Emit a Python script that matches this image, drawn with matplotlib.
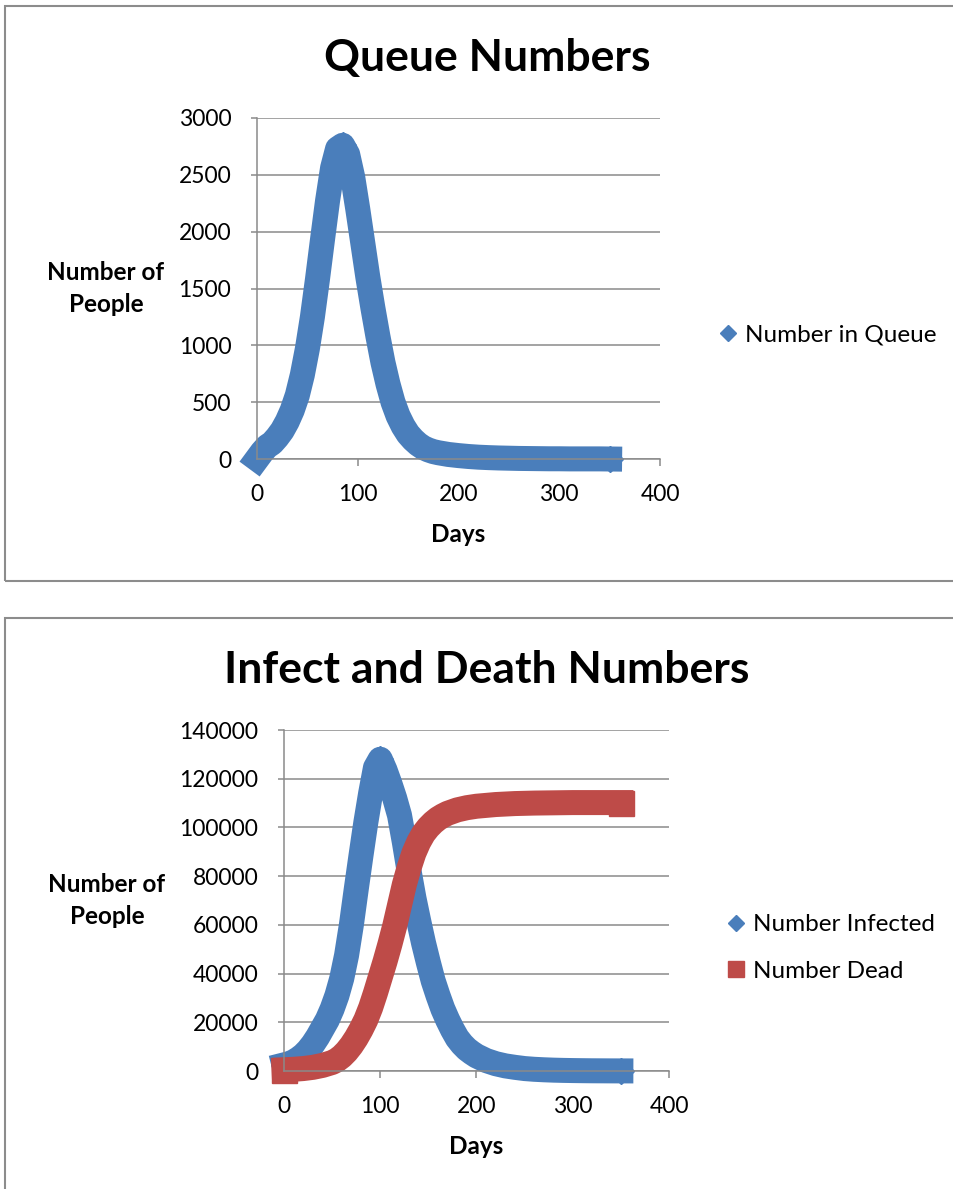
import matplotlib
matplotlib.use("Agg")
import matplotlib.pyplot as plt
from matplotlib.patches import Rectangle
from matplotlib.lines import Line2D

# queue chart data
queue_days = [0, 5, 10, 15, 20, 25, 30, 35, 40, 45, 50, 55, 60, 65, 70, 75, 80, 85,
              90, 95, 100, 105, 110, 115, 120, 125, 130, 135, 140, 145, 150, 155, 160,
              165, 170, 175, 180, 190, 200, 210, 220, 230, 240, 250, 260, 270, 280,
              290, 300, 310, 320, 330, 340, 350]
queue_people = [0, 60, 110, 140, 190, 250, 330, 430, 560, 740, 970, 1250, 1580, 1930,
                2270, 2560, 2730, 2760, 2680, 2480, 2200, 1900, 1600, 1330, 1080, 850,
                660, 500, 380, 290, 220, 170, 130, 100, 80, 65, 55, 40, 30, 22, 16, 12,
                9, 7, 5, 4, 3, 2, 2, 1, 1, 1, 1, 0]

# infection / death chart data
inf_days = [0, 5, 10, 15, 20, 25, 30, 35, 40, 45, 50, 55, 60, 65, 70, 75, 80, 85, 90,
            95, 100, 105, 110, 115, 120, 125, 130, 135, 140, 145, 150, 155, 160, 165,
            170, 175, 180, 185, 190, 195, 200, 210, 220, 230, 240, 250, 260, 270, 280,
            290, 300, 310, 320, 330, 340, 350]
infected = [2500, 3000, 3800, 5000, 6500, 8500, 11000, 14000, 17500, 21000, 25500,
            31000, 38000, 47500, 60000, 74500, 88500, 102000, 114000, 124500, 128000,
            123500, 118000, 112000, 105000, 94000, 82000, 71000, 61500, 52500, 44500,
            37000, 31000, 25500, 21000, 17000, 13500, 11000, 9000, 7500, 6200, 4300,
            3000, 2100, 1500, 1000, 700, 500, 350, 250, 180, 130, 90, 70, 50, 40]

dead_days = [0, 10, 20, 30, 40, 50, 55, 60, 65, 70, 75, 80, 85, 90, 95, 100, 105, 110,
             115, 120, 125, 130, 135, 140, 145, 150, 155, 160, 165, 170, 180, 190, 200,
             220, 240, 260, 280, 300, 320, 340, 350]
dead = [500, 700, 1000, 1500, 2300, 3500, 4500, 6000, 8000, 10500, 13500, 17000, 21000,
        26000, 32000, 38500, 45000, 52000, 59500, 68000, 76500, 83500, 89500, 94000,
        97500, 100000, 102000, 103600, 104800, 105800, 107200, 108100, 108700, 109400,
        109800, 110000, 110100, 110200, 110200, 110200, 110200]

BLUE = "#4A7EBB"
RED = "#BE4B48"
GRID = "#8a8a8a"
LW = 18

plt.rcParams['font.family'] = ['Lato', 'DejaVu Sans']

W, H = 954, 1189
fig = plt.figure(figsize=(W / 100, H / 100), dpi=100)


def px_axes(x0, y0, x1, y1):
    return fig.add_axes([x0 / W, 1 - y1 / H, (x1 - x0) / W, (y1 - y0) / H])


def style(ax, ymax, ystep):
    ax.set_xlim(0, 400)
    ax.set_ylim(0, ymax)
    ax.set_xticks(range(0, 401, 100))
    ax.set_yticks(range(0, ymax + 1, ystep))
    ax.grid(axis="y", color=GRID, linewidth=1.1)
    ax.set_axisbelow(True)
    for s in ["top", "right"]:
        ax.spines[s].set_visible(False)
    for s in ["left", "bottom"]:
        ax.spines[s].set_color(GRID)
        ax.spines[s].set_linewidth(1.1)
    ax.tick_params(axis="y", length=4.5, width=1.1, color=GRID, pad=14, labelsize=16.5)
    ax.tick_params(axis="x", length=5, width=1.1, color=GRID, pad=13, labelsize=16.5)
    ax.set_xlabel("Days", fontsize=17.5, fontweight="bold", va="center")
    ax.xaxis.set_label_coords(0.5, -0.22)
    ax.set_ylabel("Number of\nPeople", fontsize=17.5, fontweight="bold", rotation=0,
                  ha="center", va="center", linespacing=1.45)


def peak_marks(vals):
    return [0, vals.index(max(vals)), len(vals) - 1]


# chart frames
fig.patches.append(Rectangle((5 / W, 1 - 581 / H), 1.2, (581 - 6) / H,
                             transform=fig.transFigure, fill=False,
                             edgecolor="#8c8c8c", linewidth=1.5))
fig.patches.append(Rectangle((5 / W, 1 - 1250 / H), 1.2, (1250 - 618) / H,
                             transform=fig.transFigure, fill=False,
                             edgecolor="#8c8c8c", linewidth=1.5))

# top chart
ax1 = px_axes(257, 118, 660, 459)
style(ax1, 3000, 500)
ax1.yaxis.set_label_coords(-0.375, 0.5)
ax1.plot(queue_days, queue_people, color=BLUE, linewidth=LW, marker="D",
         markersize=LW / 1.35, markevery=peak_marks(queue_people),
         solid_joinstyle="round", clip_on=False)
fig.text(487 / W, 1 - 58 / H, "Queue Numbers", fontsize=32, fontweight="bold",
         ha="center", va="center")
ax1.legend(handles=[Line2D([], [], color=BLUE, marker="D", linestyle="none", markersize=8.5)],
           labels=["Number in Queue"], loc="center left",
           bbox_to_anchor=(718 / W, 1 - 335 / H), bbox_transform=fig.transFigure,
           frameon=False, fontsize=17.5, handlelength=0.8, handletextpad=0.3,
           borderpad=0, borderaxespad=0)

# bottom chart
ax2 = px_axes(284, 730, 669, 1071)
style(ax2, 140000, 20000)
ax2.yaxis.set_label_coords(-0.46, 0.5)
ax2.plot(inf_days, infected, color=BLUE, linewidth=LW, marker="D", markersize=LW / 1.35,
         markevery=peak_marks(infected), solid_joinstyle="round", clip_on=False)
ax2.plot(dead_days, dead, color=RED, linewidth=LW, marker="s", markersize=LW,
         markevery=[0, len(dead) - 1], solid_joinstyle="round", clip_on=False)
fig.text(487 / W, 1 - 670 / H, "Infect and Death Numbers", fontsize=32,
         fontweight="bold", ha="center", va="center")
ax2.legend(handles=[Line2D([], [], color=BLUE, marker="D", linestyle="none", markersize=8.5),
                    Line2D([], [], color=RED, marker="s", linestyle="none", markersize=12)],
           labels=["Number Infected", "Number Dead"], loc="center left",
           bbox_to_anchor=(726 / W, 1 - 948 / H), bbox_transform=fig.transFigure,
           frameon=False, fontsize=17.5, handlelength=0.8, handletextpad=0.3,
           labelspacing=1.05, borderpad=0, borderaxespad=0)

fig.savefig("out.png", dpi=100)
